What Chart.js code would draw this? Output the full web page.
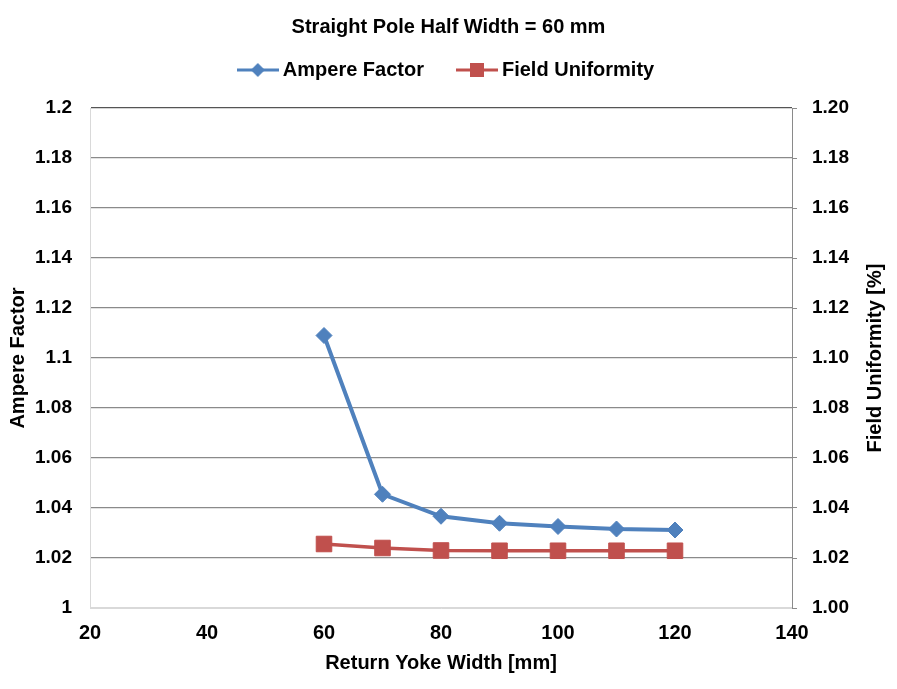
<!DOCTYPE html>
<html>
<head>
<meta charset="utf-8">
<script src="https://cdn.jsdelivr.net/npm/chart.js@4/dist/chart.umd.min.js"></script>
<style>
  html, body { margin: 0; padding: 0; background: #ffffff; }
  #wrap { width: 897px; height: 689px; }
</style>
</head>
<body>
<div id="wrap"><canvas id="c" width="897" height="689"></canvas></div>
<script>
// ---- data ----
const chartTitle = 'Straight Pole Half Width = 60 mm';
const seriesNames = ['Ampere Factor', 'Field Uniformity'];
const returnYokeWidth = [60, 70, 80, 90, 100, 110, 120];
const ampereFactor = [1.109, 1.0455, 1.0367, 1.0339, 1.0326, 1.0316, 1.0312];
const fieldUniformity = [1.0256, 1.0240, 1.0230, 1.0229, 1.0229, 1.0229, 1.0229];
const xTitle = 'Return Yoke Width [mm]';
const yLeftTitle = 'Ampere Factor';
const yRightTitle = 'Field Uniformity [%]';
const xMin = 20, xMax = 140, xStep = 20;
const yMin = 1.0, yMax = 1.2, yStep = 0.02;

const BLUE = '#4F81BD';
const RED = '#C0504D';
const FONT = "'Liberation Sans', Arial, Helvetica, sans-serif";

function toXY(xs, ys) { return xs.map((x, i) => ({ x: x, y: ys[i] })); }

function legendImage(color, kind) {
  const c = document.createElement('canvas');
  c.width = 42; c.height = 20;
  const g = c.getContext('2d');
  g.strokeStyle = color; g.lineWidth = 3;
  g.beginPath(); g.moveTo(0, 10); g.lineTo(42, 10); g.stroke();
  g.fillStyle = color;
  g.beginPath();
  if (kind === 'diamond') {
    g.moveTo(21, 3); g.lineTo(28, 10); g.lineTo(21, 17); g.lineTo(14, 10);
  } else {
    g.rect(14, 3, 14, 14);
  }
  g.closePath(); g.fill();
  return c;
}
const legendImgs = [legendImage(BLUE, 'diamond'), legendImage(RED, 'square')];

function gridColor(ctx) {
  const v = ctx.tick ? ctx.tick.value : 0;
  if (Math.abs(v - yMin) < 1e-6) return '#d9d9d9';
  if (Math.abs(v - yMax) < 1e-6) return '#555555';
  return '#8a8a8a';
}

// right-hand axis title reads bottom-to-top in the reference
const rightTitlePlugin = {
  id: 'rightTitle',
  afterDraw(chart) {
    const s = chart.scales.y2;
    const ctx = chart.ctx;
    ctx.save();
    ctx.translate(s.right - 22, (chart.chartArea.top + chart.chartArea.bottom) / 2);
    ctx.rotate(-Math.PI / 2);
    ctx.font = 'bold 20px ' + FONT;
    ctx.fillStyle = '#000';
    ctx.textAlign = 'center';
    ctx.textBaseline = 'middle';
    ctx.fillText(yRightTitle, 0, 0);
    ctx.restore();
  }
};

new Chart(document.getElementById('c'), {
  type: 'line',
  data: {
    datasets: [
      {
        label: seriesNames[0],
        data: toXY(returnYokeWidth, ampereFactor),
        yAxisID: 'y',
        borderColor: BLUE,
        backgroundColor: BLUE,
        borderWidth: 4,
        pointStyle: 'rectRot',
        pointRadius: 8,
        pointHoverRadius: 8,
        pointBorderWidth: 1,
        tension: 0
      },
      {
        label: seriesNames[1],
        data: toXY(returnYokeWidth, fieldUniformity),
        yAxisID: 'y2',
        borderColor: RED,
        backgroundColor: RED,
        borderWidth: 3.5,
        pointStyle: 'rect',
        pointRadius: 11,
        pointHoverRadius: 11,
        pointBorderWidth: 1,
        tension: 0
      }
    ]
  },
  plugins: [rightTitlePlugin],
  options: {
    responsive: false,
    animation: false,
    events: [],
    layout: { padding: 0 },
    plugins: {
      title: {
        display: true,
        text: chartTitle,
        color: '#000',
        font: { family: FONT, size: 20, weight: 'bold', lineHeight: 1.2 },
        padding: { top: 15, bottom: -17 }
      },
      subtitle: {
        display: true,
        text: '',
        weight: 500,
        font: { family: FONT, size: 10, lineHeight: 1 },
        padding: { top: 0, bottom: 8 }
      },
      legend: {
        display: true,
        position: 'top',
        align: 'center',
        labels: {
          usePointStyle: true,
          pointStyleWidth: 30,
          padding: 38,
          color: '#000',
          font: { family: FONT, size: 20, weight: 'bold' },
          generateLabels: function (chart) {
            const items = Chart.defaults.plugins.legend.labels.generateLabels(chart);
            items.forEach((it, i) => { it.pointStyle = legendImgs[i]; });
            return items;
          }
        }
      },
      tooltip: { enabled: false }
    },
    scales: {
      x: {
        type: 'linear',
        position: 'bottom',
        min: xMin, max: xMax,
        ticks: {
          stepSize: xStep,
          color: '#000',
          padding: 13,
          font: { family: FONT, size: 20, weight: 'bold' },
          maxRotation: 0
        },
        grid: { display: false, drawTicks: false },
        border: { display: true, color: '#d9d9d9', width: 1 },
        title: {
          display: true,
          text: xTitle,
          color: '#000',
          font: { family: FONT, size: 20, weight: 'bold', lineHeight: 1.2 },
          padding: { top: 0, bottom: 14 }
        },
        afterFit: function (s) { s.height = 81; }
      },
      y: {
        type: 'linear',
        position: 'left',
        min: yMin, max: yMax,
        ticks: {
          stepSize: yStep,
          color: '#000',
          padding: 18,
          font: { family: FONT, size: 19, weight: 'bold' },
          callback: function (v) { return String(+v.toFixed(2)); }
        },
        grid: { color: gridColor, lineWidth: 1.2, drawTicks: false },
        border: { display: true, color: '#d9d9d9', width: 1 },
        title: {
          display: true,
          text: yLeftTitle,
          color: '#000',
          font: { family: FONT, size: 20, weight: 'bold', lineHeight: 1.2 },
          padding: { top: 6, bottom: 0 }
        },
        afterFit: function (s) { s.width = 90; }
      },
      y2: {
        type: 'linear',
        position: 'right',
        min: yMin, max: yMax,
        ticks: {
          stepSize: yStep,
          color: '#000',
          padding: 15,
          font: { family: FONT, size: 19, weight: 'bold' },
          callback: function (v) { return v.toFixed(2); }
        },
        grid: { drawOnChartArea: false, drawTicks: true, tickLength: 5, color: '#8a8a8a', lineWidth: 1 },
        border: { display: true, color: '#8a8a8a', width: 1 },
        title: { display: false, text: yRightTitle },
        afterFit: function (s) { s.width = 105; }
      }
    }
  }
});
</script>
</body>
</html>
